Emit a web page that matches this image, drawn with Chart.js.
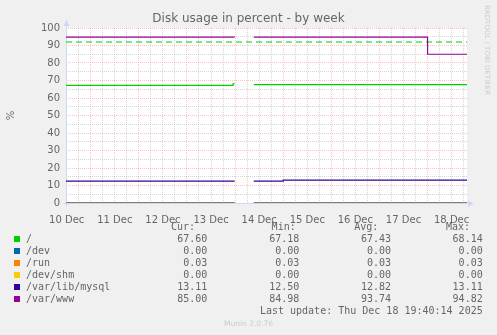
<!DOCTYPE html>
<html>
<head>
<meta charset="utf-8">
<title>Disk usage in percent - by week</title>
<script src="https://cdn.jsdelivr.net/npm/chart.js@4.4.0/dist/chart.umd.min.js"></script>
<style>
  html, body { margin: 0; padding: 0; background: #F0F0F0; }
  #wrap { position: relative; width: 497px; height: 335px; overflow: hidden; }
  #chart { position: absolute; left: 0; top: 0; }
  .lg { position: absolute; font: 10px "DejaVu Sans Mono", monospace; color: #666; white-space: pre; line-height: 12px; }
  .sw { position: absolute; width: 6px; height: 6px; }
  #munin { position: absolute; left: 0; width: 497px; top: 319px; text-align: center; font: 7.5px "DejaVu Sans", sans-serif; color: #CCCCCC; line-height: 10px; }
</style>
</head>
<body>
<div id="wrap">
  <canvas id="chart" width="497" height="335"></canvas>
  <div id="legend"></div>
  <div id="munin">Munin 2.0.76</div>
</div>
<script>
// time axis in hours since 10 Dec 00:00, window of 200 h ending at the last update
const tStart = 11.67;
const tEnd = 211.67;

const times    = [11.67, 95.0, 95.8, 96.0, 105.3, 120.0, 192.0, 211.67];
const rootPct  = [67.18, 68.14, 68.14, null, 67.60, 67.60, 67.60, 67.60];
const devPct   = [0.00, 0.00, 0.00, null, 0.00, 0.00, 0.00, 0.00];
const runPct   = [0.03, 0.03, 0.03, null, 0.03, 0.03, 0.03, 0.03];
const shmPct   = [0.00, 0.00, 0.00, null, 0.00, 0.00, 0.00, 0.00];
const mysqlPct = [12.50, 12.50, 12.50, null, 12.50, 13.11, 13.11, 13.11];
const wwwPct   = [94.82, 94.82, 94.82, null, 94.82, 94.82, 85.00, 85.00];
const warnLevel = 92;

const fsNames  = ['/', '/dev', '/run', '/dev/shm', '/var/lib/mysql', '/var/www'];
const fsColors = ['#00CC00', '#0066B3', '#FF8000', '#FFCC00', '#330099', '#990099'];
const fsSeries = [rootPct, devPct, runPct, shmPct, mysqlPct, wwwPct];

const statCur = ['67.60', '0.00', '0.03', '0.00', '13.11', '85.00'];
const statMin = ['67.18', '0.00', '0.03', '0.00', '12.50', '84.98'];
const statAvg = ['67.43', '0.00', '0.03', '0.00', '12.82', '93.74'];
const statMax = ['68.14', '0.00', '0.03', '0.00', '13.11', '94.82'];
const lastUpdate = 'Last update: Thu Dec 18 19:40:14 2025';

const dayTicks  = [12, 36, 60, 84, 108, 132, 156, 180, 204];
const dayLabels = ['10 Dec', '11 Dec', '12 Dec', '13 Dec', '14 Dec', '15 Dec', '16 Dec', '17 Dec', '18 Dec'];
const midnightTicks = [24, 48, 72, 96, 120, 144, 168, 192];
const yTicks = [0, 10, 20, 30, 40, 50, 60, 70, 80, 90, 100];

const sixHourTicks = [];
for (let h = 12; h <= 210; h += 6) if (h % 24 !== 0) sixHourTicks.push(h);
const yMinorTicks = [];
for (let v = 5; v < 100; v += 10) yMinorTicks.push(v);

const fontColor = '#666666';
const axisColor = '#CFD6F8';
const gridColor = 'rgba(128,128,128,0.33)';
const mgridColor = 'rgba(255,0,0,0.24)';

const datasets = fsSeries.map((vals, i) => ({
    label: fsNames[i],
    data: vals.map((v, j) => ({x: times[j], y: v})),
    borderColor: fsColors[i],
    borderWidth: 1.2,
    pointRadius: 0,
    stepped: true,
    spanGaps: false,
    fill: false
}));
datasets.push({
    label: 'warning',
    data: [{x: tStart, y: warnLevel}, {x: tEnd, y: warnLevel}],
    borderColor: '#00CC00',
    borderWidth: 1.2,
    borderDash: [6, 4],
    pointRadius: 0,
    fill: false
});

const muninFrame = {
    id: 'muninFrame',
    beforeDraw(chart) {
        const a = chart.chartArea;
        const ctx = chart.ctx;
        ctx.save();
        ctx.fillStyle = '#FFFFFF';
        ctx.fillRect(a.left, a.top, a.right - a.left, a.bottom - a.top);
        ctx.restore();
    },
    beforeDatasetsDraw(chart) {
        const a = chart.chartArea;
        const ctx = chart.ctx;
        const x0 = Math.round(a.left) + 0.5;
        const y0 = Math.round(a.bottom) + 0.5;
        ctx.save();
        ctx.strokeStyle = axisColor;
        ctx.fillStyle = axisColor;
        ctx.lineWidth = 1;
        ctx.beginPath();
        ctx.moveTo(x0, y0 + 3);
        ctx.lineTo(x0, a.top - 4);
        ctx.moveTo(x0 - 3, y0);
        ctx.lineTo(a.right + 2, y0);
        ctx.stroke();
        ctx.beginPath();
        ctx.moveTo(x0, a.top - 8);
        ctx.lineTo(x0 - 3, a.top - 2);
        ctx.lineTo(x0 + 3, a.top - 2);
        ctx.closePath();
        ctx.fill();
        ctx.beginPath();
        ctx.moveTo(a.right + 7, y0);
        ctx.lineTo(a.right + 1, y0 - 3);
        ctx.lineTo(a.right + 1, y0 + 3);
        ctx.closePath();
        ctx.fill();
        ctx.restore();
    },
    afterDraw(chart) {
        const ctx = chart.ctx;
        ctx.save();
        ctx.translate(487, 5);
        ctx.rotate(Math.PI / 2);
        ctx.fillStyle = '#CCCCCC';
        ctx.font = '7px "DejaVu Sans"';
        ctx.textBaseline = 'middle';
        ctx.fillText('RRDTOOL / TOBI OETIKER', 0, 0);
        ctx.restore();
    }
};

const tickFont = {family: 'DejaVu Sans', size: 10};

new Chart(document.getElementById('chart').getContext('2d'), {
    type: 'line',
    data: {datasets: datasets},
    plugins: [muninFrame],
    options: {
        responsive: false,
        animation: false,
        events: [],
        layout: {padding: {left: 0, right: 0, top: 0, bottom: 110}},
        plugins: {
            legend: {display: false},
            tooltip: {enabled: false},
            title: {
                display: true,
                text: 'Disk usage in percent - by week',
                color: fontColor,
                font: {family: 'DejaVu Sans', size: 12, weight: 'normal'},
                padding: {top: 12, bottom: 1.6}
            }
        },
        scales: {
            x: {
                type: 'linear', position: 'bottom', min: tStart, max: tEnd,
                afterBuildTicks: s => { s.ticks = dayTicks.map(v => ({value: v})); },
                afterFit: s => { s.height = 22; },
                grid: {display: false},
                border: {display: false},
                ticks: {
                    autoSkip: false, maxRotation: 0, padding: 3,
                    color: fontColor, font: tickFont,
                    callback: (v, i) => dayLabels[i]
                }
            },
            xMajor: {
                type: 'linear', position: 'bottom', min: tStart, max: tEnd,
                afterBuildTicks: s => { s.ticks = midnightTicks.map(v => ({value: v})); },
                afterFit: s => { s.height = 0; },
                ticks: {display: false},
                grid: {color: mgridColor, drawTicks: false, lineWidth: 1, z: -1},
                border: {display: false, dash: [1, 1]}
            },
            xMinor: {
                type: 'linear', position: 'bottom', min: tStart, max: tEnd,
                afterBuildTicks: s => { s.ticks = sixHourTicks.map(v => ({value: v})); },
                afterFit: s => { s.height = 0; },
                ticks: {display: false},
                grid: {color: gridColor, drawTicks: false, lineWidth: 1, z: -2},
                border: {display: false, dash: [1, 1]}
            },
            y: {
                type: 'linear', position: 'left', min: 0, max: 100,
                afterBuildTicks: s => { s.ticks = yTicks.map(v => ({value: v})); },
                afterFit: s => { s.width = 66; },
                ticks: {autoSkip: false, padding: 6, color: fontColor, font: tickFont},
                grid: {color: mgridColor, drawTicks: false, lineWidth: 1, z: -1},
                border: {display: false, dash: [1, 1]},
                title: {
                    display: true, text: '%', color: fontColor,
                    font: {family: 'DejaVu Sans', size: 10},
                    padding: {top: 5, bottom: 0}
                }
            },
            yMinor: {
                type: 'linear', position: 'right', min: 0, max: 100,
                afterBuildTicks: s => { s.ticks = yMinorTicks.map(v => ({value: v})); },
                afterFit: s => { s.width = 30; },
                ticks: {display: false},
                grid: {color: gridColor, drawTicks: false, lineWidth: 1, z: -2},
                border: {display: false, dash: [1, 1]}
            }
        }
    }
});

// text legend in the munin layout
const legend = document.getElementById('legend');
function addText(text, x, yc, align) {
    const el = document.createElement('div');
    el.className = 'lg';
    el.textContent = text;
    el.style.top = (yc - 6) + 'px';
    if (align === 'right') el.style.right = (497 - x) + 'px';
    else el.style.left = x + 'px';
    legend.appendChild(el);
}

const headY = 227.3;
addText('Cur:', 195, headY, 'right');
addText('Min:', 295.7, headY, 'right');
addText('Avg:', 378.3, headY, 'right');
addText('Max:', 470, headY, 'right');

fsNames.forEach((name, i) => {
    const yc = 239.3 + i * 12;
    const sw = document.createElement('div');
    sw.className = 'sw';
    sw.style.left = '14px';
    sw.style.top = (yc - 3) + 'px';
    sw.style.background = fsColors[i];
    legend.appendChild(sw);
    addText(name, 26, yc, 'left');
    addText(statCur[i], 207.3, yc, 'right');
    addText(statMin[i], 299.3, yc, 'right');
    addText(statAvg[i], 391, yc, 'right');
    addText(statMax[i], 482.7, yc, 'right');
});
addText(lastUpdate, 482.7, 311.3, 'right');
</script>
</body>
</html>
